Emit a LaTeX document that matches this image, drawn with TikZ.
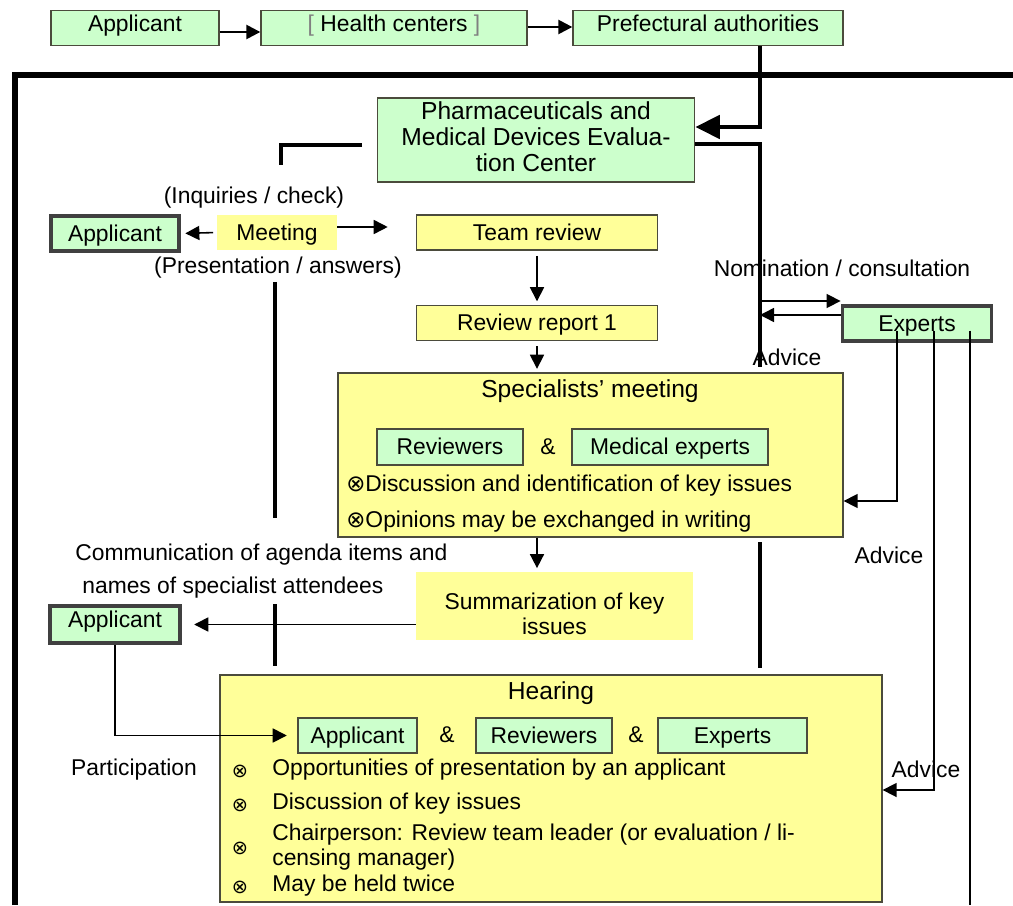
\documentclass[tikz,border=0pt]{standalone}
\usepackage{fontspec}
\setmainfont{Liberation Sans}
\newfontfamily\symfont{DejaVu Sans}
\usetikzlibrary{arrows.meta,positioning}

\definecolor{mint}{RGB}{204,255,204}
\definecolor{lemon}{RGB}{255,255,153}
\definecolor{rim}{RGB}{75,75,60}

\newcommand{\ox}{{\symfont ⊗}}

\begin{document}
\begin{tikzpicture}[x=0.02cm, y=-0.02cm, >={Triangle[length=8pt,width=8pt]},
  font=\fontsize{13}{15}\selectfont,
  every node/.style={align=center},
  txt/.style={inner sep=0pt},
  panel/.style={draw=rim, fill=mint, line width=0.8pt, inner sep=0pt},
  greenbox/.style={panel, minimum height=0.7cm, text height=9.5pt, text depth=0.5pt},
  heavybox/.style={greenbox, draw=black!75, line width=2.2pt},
  yellowbox/.style={greenbox, fill=lemon},
  flat/.style={fill=lemon, inner sep=0pt},
  flow/.style={->, line width=0.9pt},
  bar/.style={line width=2.8pt},
  title/.style={txt, font=\fontsize{14}{16}\selectfont}]

\useasboundingbox (0,0) rectangle (1013,905);

% Submission route
\node (app1) [greenbox, text depth=5.5pt, minimum width=3.36cm] at (135,28) {Applicant};
\node (health) [greenbox, text depth=5.5pt, minimum width=5.32cm] at (394,28) {\textcolor{black!50}{[} Health centers \textcolor{black!50}{]}};
\node (pref) [greenbox, text depth=5.5pt, minimum width=5.4cm] at (708,28) {Prefectural authorities};

\draw[flow, line width=1.4pt] (app1.east |- 0,32) -- (health.west |- 0,32);
\draw[flow, line width=1.4pt] (health.east |- 0,27) -- (pref.west |- 0,27);

% Frame
\draw[line width=3pt] (15,905) -- (15,75) -- (1013,75);

% Evaluation center
\node (pmda) [panel, minimum width=6.34cm, minimum height=1.68cm] at (536,140) {};
\node (pmdatext) [txt, font=\fontsize{14}{14.7}\selectfont] at (536,137) {Pharmaceuticals and\\Medical Devices Evalua-\\tion Center};
\coordinate (rail) at (760,367);

\draw[bar, -{Triangle[length=14pt,width=13pt]}] (pref.south -| rail) -- (rail |- 0,127) -- (pmda.east |- 0,127);
\draw[bar] (pmda.east |- 0,144) -- (rail |- 0,144) -- (rail);

% Meeting
\node (app2) [heavybox, minimum width=2.56cm] at (115,233.5) {Applicant};
\node (meeting) [flat, minimum width=2.4cm, minimum height=0.7cm, text height=9.5pt, text depth=0.5pt] at (277,232.5) {Meeting};
\node (inq) [txt] at (254,198) {(Inquiries / check)};
\node (pres) [txt] at (278,268) {(Presentation / answers)};
\node (team) [yellowbox, minimum width=4.82cm] at (537,232.5) {Team review};
\node (report) [yellowbox, minimum width=4.82cm] at (537,323) {Review report 1};

\draw[flow, shorten <=2pt, shorten >=2.5pt] (meeting.west) -- (app2.east);
\draw[flow, shorten >=16pt] (meeting.east |- 0,227) -- (team.west |- 0,227);
\draw[flow, shorten <=3pt, shorten >=2pt] (team.south) -- (report.north);

% Specialists' meeting
\node (spec) [yellowbox, minimum width=10.1cm, minimum height=3.28cm] at (590.5,455) {};
\node (spectitle) [title] at (590,391) {Specialists' meeting};
\node (rev1) [greenbox, minimum width=2.92cm, minimum height=0.72cm] at (450,447) {Reviewers};
\node (amp1) [txt] at (548,447) {\&};
\node (medexp) [greenbox, minimum width=3.92cm, minimum height=0.72cm] at (670,447) {Medical experts};
\node (disc) [txt, anchor=west] at (346,486) {\ox Discussion and identification of key issues};
\node (opin) [txt, anchor=west] at (346,522) {\ox Opinions may be exchanged in writing};

\draw[flow, shorten <=3pt, shorten >=2pt] (report.south) -- (report.south |- spec.north);

% Experts
\node (experts) [heavybox, minimum width=2.98cm] at (917,323.5) {Experts};
\node (nom) [txt] at (842,268) {Nomination / consultation};
\node (adv1) [txt] at (787,357) {Advice};
\node (adv2) [txt] at (889,555) {Advice};
\node (adv3) [txt] at (926,769) {Advice};

\draw[flow] (rail |- 0,301) -- (experts.west |- 0,301);
\draw[flow] (experts.west |- 0,315) -- (rail |- 0,315);

% Summarization
\node (summ) [flat, minimum width=5.54cm, minimum height=1.36cm] at (554.5,606) {};
\node (summtext) [txt, font=\fontsize{13}{14.3}\selectfont] at (554.5,614) {Summarization of key\\issues};
\draw[flow, shorten >=2pt] (report.south |- spec.south) -- (report.south |- summ.north);
\node (comm1) [txt, anchor=west] at (75,555) {Communication of agenda items and};
\node (comm2) [txt, anchor=west] at (82,588) {names of specialist attendees};
\node (app3) [heavybox, text depth=6.5pt, minimum width=2.6cm, minimum height=0.74cm] at (115,624.5) {Applicant};
\draw[flow, shorten >=7pt] (summ.west |- app3) -- (app3.east);

% Hearing
\node (hearing) [yellowbox, minimum width=13.24cm, minimum height=4.54cm] at (551,788.5) {};
\node (heartitle) [title] at (551,693) {Hearing};
\node (happ) [greenbox, minimum width=2.38cm] at (357.5,735.5) {Applicant};
\node (amp2) [txt] at (447,735) {\&};
\node (hrev) [greenbox, minimum width=2.72cm] at (544,735.5) {Reviewers};
\node (amp3) [txt] at (636,735) {\&};
\node (hexp) [greenbox, minimum width=2.98cm] at (732.5,735.5) {Experts};
\foreach \y in {771,805,848,887}
  \node (mark\y) [txt, font=\fontsize{11}{13}\selectfont] at (240,\y) {\ox};
\node (item1) [txt, anchor=west] at (272,770) {Opportunities of presentation by an applicant};
\node (item2) [txt, anchor=west] at (272,804) {Discussion of key issues};
\node (item3) [txt, anchor=west, align=left, font=\fontsize{13}{14.3}\selectfont] at (272,847) {Chairperson: Review team leader (or evaluation / li-\\censing manager)};
\node (item4) [txt, anchor=west] at (272,886) {May be held twice};
\node (part) [txt] at (134,770) {Participation};

\draw[flow, shorten >=6pt] (app3.south) |- (happ.west);

% Advice lines from experts
\path (experts.center) ++(0,7) coordinate (expfoot);
\draw[flow] (expfoot -| 897,0) |- (spec.east |- 0,501);
\draw[flow] (expfoot -| 934,0) |- (hearing.east |- 0,790);
\draw[line width=0.9pt] (expfoot -| 970,0) -- (970,905);

% Bars
\draw[bar] (362,145) -- (281,145) -- (281,165);
\draw[bar] (275,282) -- (275,518);
\draw[bar] (275,604) -- (275,666);
\draw[bar] (760,542) -- (760,668);

\end{tikzpicture}
\end{document}
